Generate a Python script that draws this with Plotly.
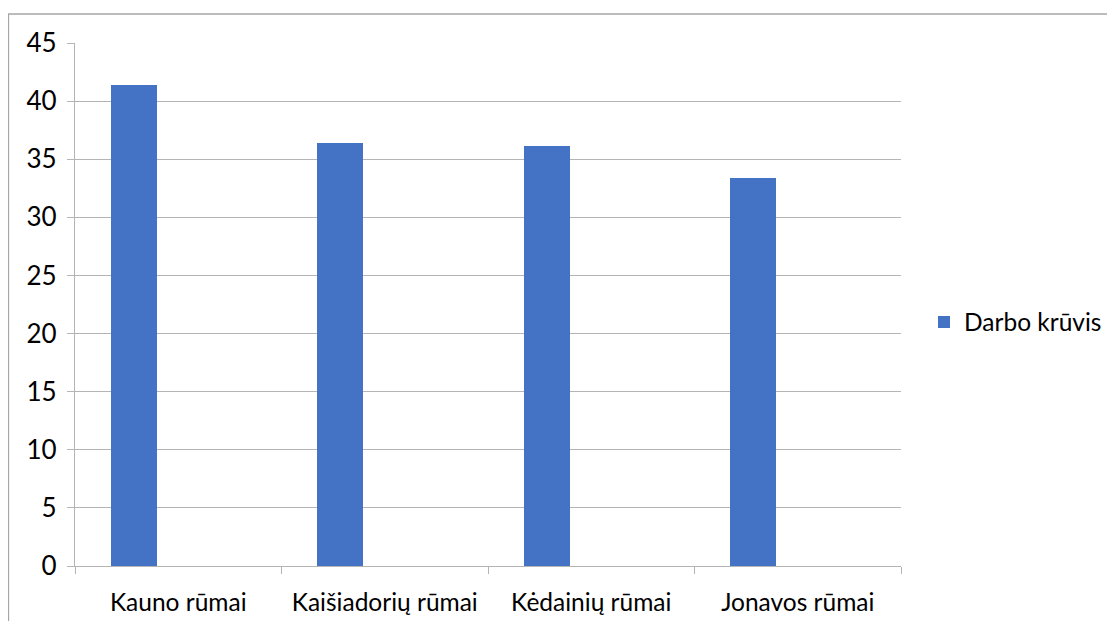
import plotly.graph_objects as go

categories = ["Kauno rūmai", "Kaišiadorių rūmai", "Kėdainių rūmai", "Jonavos rūmai"]
values = [41.4, 36.4, 36.1, 33.4]
series_name = "Darbo krūvis"
y_ticks = [0, 5, 10, 15, 20, 25, 30, 35, 40, 45]

OFF = 8  # page body margin
W, H = 1115 - OFF, 621 - OFF
L, R, T, B = 75 - OFF, 901 - OFF, 43 - OFF, 566 - OFF
pw, ph = R - L, B - T

grid = "#B4B4B4"
font = dict(family="Lato, Open Sans, sans-serif", size=24.5, color="#000000")

fig = go.Figure()
fig.add_trace(go.Bar(
    x=categories, y=values, name=series_name,
    marker=dict(color="#4472C4", line=dict(width=0)),
    width=0.223, offset=-0.326,
))

def px_x(x):
    return (x - OFF - L) / pw

def px_y(y):
    return (B - (y - OFF)) / ph

fig.add_shape(type="line", xref="paper", yref="paper",
              x0=px_x(8), x1=px_x(1120), y0=px_y(14), y1=px_y(14),
              line=dict(color="#A6A6A6", width=1.3))
fig.add_shape(type="line", xref="paper", yref="paper",
              x0=px_x(8.5), x1=px_x(8.5), y0=px_y(14), y1=px_y(630),
              line=dict(color="#A6A6A6", width=1.3))

fig.update_layout(
    width=W, height=H,
    margin=dict(l=L, r=W - R, t=T, b=H - B, autoexpand=False),
    paper_bgcolor="white", plot_bgcolor="white",
    font=font,
    showlegend=True,
    legend=dict(x=px_x(924), y=px_y(322), xanchor="left", yanchor="middle",
                font=dict(size=24.5), itemwidth=30, bgcolor="rgba(0,0,0,0)"),
    bargap=0,
    xaxis=dict(
        type="category", range=[-0.5, 3.5], tickson="boundaries",
        ticks="outside", ticklen=7, tickcolor=grid, tickwidth=1.3,
        showgrid=False, showline=True, linecolor=grid, linewidth=1.3,
        ticklabelstandoff=14, tickfont=font,
    ),
    yaxis=dict(
        range=[0, 45], tickvals=y_ticks, ticks="outside", ticklen=7,
        tickcolor=grid, tickwidth=1.3, showgrid=True, gridcolor=grid, gridwidth=1.3,
        showline=True, linecolor=grid, linewidth=1.3, zeroline=False,
        ticklabelstandoff=5, tickfont=dict(family=font["family"], size=26, color="#000000"),
    ),
)

fig.write_html("out.html")
